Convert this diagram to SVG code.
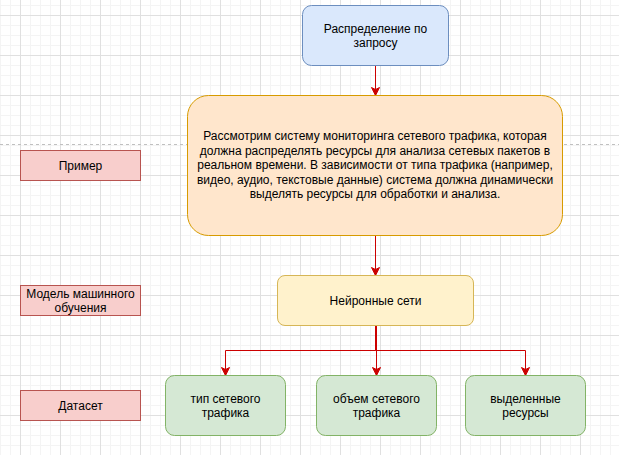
<svg xmlns="http://www.w3.org/2000/svg" width="619" height="455" viewBox="0 0 619 455">
<style>
text{font-family:"Liberation Sans",Arial,sans-serif;font-size:12px;fill:#000;text-anchor:middle}
.red{fill:#f8cecc;stroke:#b85450;stroke-width:1}
.blue{fill:#dae8fc;stroke:#6c8ebf;stroke-width:1}
.orange{fill:#ffe6cc;stroke:#d79b00;stroke-width:1}
.yellow{fill:#fff2cc;stroke:#d6b656;stroke-width:1}
.green{fill:#d5e8d4;stroke:#82b366;stroke-width:1}
.edge{fill:none;stroke:#cc0000;stroke-width:1;marker-end:url(#arr)}
</style>
<defs>
<pattern id="minor" patternUnits="userSpaceOnUse" x="0" y="5" width="10" height="10">
<path d="M0.5 0V10M0 0.5H10" stroke="#f4f4f4" stroke-width="1" fill="none"/>
</pattern>
<pattern id="major" patternUnits="userSpaceOnUse" x="20" y="15" width="40" height="40">
<path d="M0.5 0V40M0 0.5H40" stroke="#e0e0e0" stroke-width="1" fill="none"/>
</pattern>
<marker id="arr" markerUnits="userSpaceOnUse" markerWidth="10" markerHeight="10" viewBox="0 0 10 10" refX="9" refY="5" orient="auto">
<path d="M1,1 L9,5 L1,9 L3,5 Z" fill="#cc0000" stroke="#cc0000" stroke-width="1"/>
</marker>
</defs>
<rect width="619" height="455" fill="#ffffff"/>
<rect width="619" height="455" fill="url(#minor)"/>
<rect width="619" height="455" fill="url(#major)"/>
<line x1="0" y1="144.5" x2="619" y2="144.5" stroke="#c0c0c0" stroke-width="1" stroke-dasharray="3 3"/>

<g id="connectors">
<path class="edge" d="M375.5 65.5V95.5"/>
<path class="edge" d="M375.5 235.5V275.5"/>
<path class="edge" d="M375.5 325.5V350.5H225.5V375.5"/>
<path class="edge" d="M375.5 325.5V350.5H525.5V375.5"/>
<path class="edge" d="M376.5 325.5V375.5"/>
</g>

<g id="label-primer">
<rect class="red" x="20.5" y="150.5" width="120" height="30"/>
<text x="80.5" y="170">Пример</text>
</g>
<g id="label-model">
<rect class="red" x="20.5" y="285.5" width="120" height="30"/>
<text x="80.5" y="297.5">Модель машинного</text>
<text x="80.5" y="311.5">обучения</text>
</g>
<g id="label-dataset">
<rect class="red" x="20.5" y="390.5" width="120" height="30"/>
<text x="80.5" y="410">Датасет</text>
</g>

<g id="node-request">
<rect class="blue" x="302.5" y="5.5" width="146" height="60" rx="9" ry="9"/>
<text x="375.5" y="32.5">Распределение по</text>
<text x="375.5" y="47">запросу</text>
</g>
<g id="node-example">
<rect class="orange" x="187.5" y="95.5" width="375" height="140" rx="21" ry="21"/>
<text x="375" y="140">Рассмотрим систему мониторинга сетевого трафика, которая</text>
<text x="375" y="154.5">должна распределять ресурсы для анализа сетевых пакетов в</text>
<text x="375" y="169">реальном времени. В зависимости от типа трафика (например,</text>
<text x="375" y="183.5">видео, аудио, текстовые данные) система должна динамически</text>
<text x="375" y="198">выделять ресурсы для обработки и анализа.</text>
</g>
<g id="node-nn">
<rect class="yellow" x="277.5" y="275.5" width="196" height="50" rx="7.5" ry="7.5"/>
<text x="375.5" y="305">Нейронные сети</text>
</g>
<g id="node-type">
<rect class="green" x="165.5" y="375.5" width="120" height="60" rx="9" ry="9"/>
<text x="225.5" y="402.5">тип сетевого</text>
<text x="225.5" y="417">трафика</text>
</g>
<g id="node-volume">
<rect class="green" x="316.5" y="375.5" width="120" height="60" rx="9" ry="9"/>
<text x="376.5" y="402.5">объем сетевого</text>
<text x="376.5" y="417">трафика</text>
</g>
<g id="node-resources">
<rect class="green" x="465.5" y="375.5" width="120" height="60" rx="9" ry="9"/>
<text x="525.5" y="402.5">выделенные</text>
<text x="525.5" y="417">ресурсы</text>
</g>
</svg>
